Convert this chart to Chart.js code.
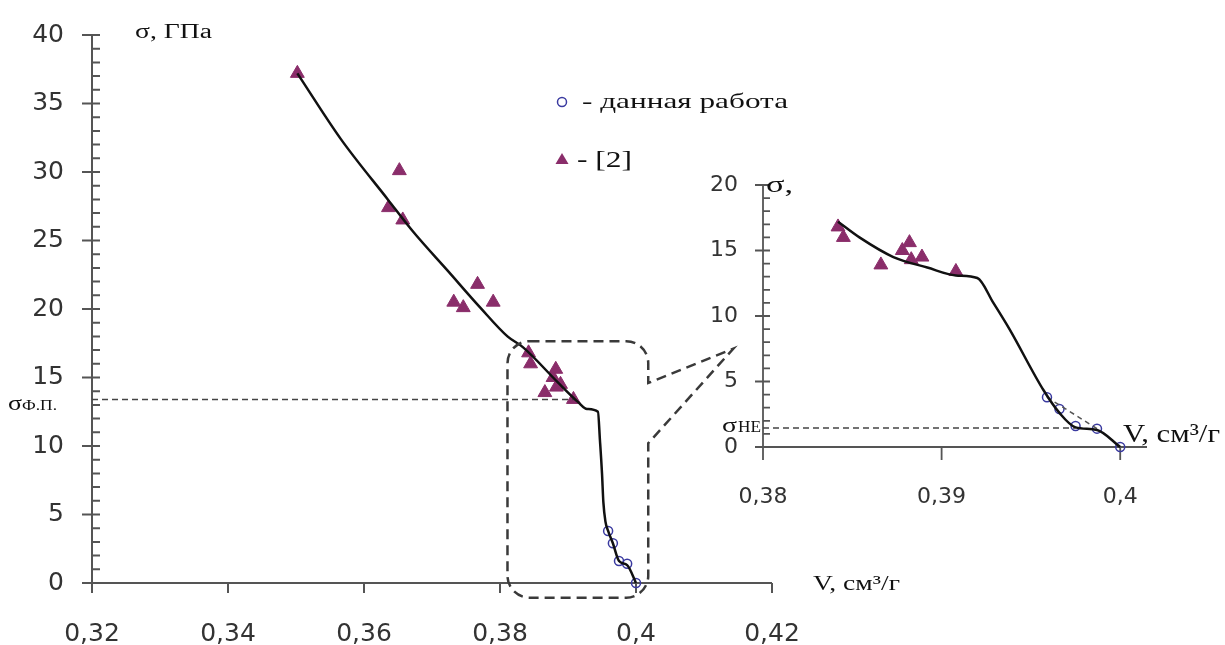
<!DOCTYPE html>
<html>
<head>
<meta charset="utf-8">
<script src="https://cdn.jsdelivr.net/npm/chart.js@4.4.1/dist/chart.umd.min.js"></script>
<style>
  html, body { margin: 0; padding: 0; background: #fff; }
  #wrap { position: relative; width: 1225px; height: 645px; }
  #wrap canvas { position: absolute; left: 0; top: 0; }
</style>
</head>
<body>
<div id="wrap">
  <canvas id="mainChart" width="1225" height="645"></canvas>
  <canvas id="insetChart" width="1225" height="645"></canvas>
</div>
<script>
// --- data: σ (GPa) vs V (cm3/g) ---
// "данная работа" (open circles)
const workV = [0.3959, 0.3966, 0.3975, 0.3987, 0.4000];
const workS = [3.8, 2.9, 1.6, 1.4, 0.0];

// "[2]" (triangles)
const refV = [0.3502, 0.3636, 0.3652, 0.3657, 0.3732, 0.3746, 0.3767, 0.3790,
  0.3842, 0.3845, 0.3866, 0.3878, 0.3882, 0.3883, 0.3889, 0.3908];
const refS = [37.2, 27.4, 30.1, 26.5, 20.5, 20.1, 21.8, 20.5,
  16.8, 16.0, 13.9, 15.0, 15.6, 14.3, 14.5, 13.4];

// solid curve, main chart
const curveV = [0.3502, 0.3566, 0.3635, 0.3673, 0.3723, 0.3771, 0.3811, 0.3834,
  0.3884, 0.3915, 0.3928, 0.3944, 0.3947, 0.3950, 0.3952, 0.3955, 0.3959, 0.3966,
  0.3975, 0.3987, 0.4000];
const curveS = [37.2, 32.4, 28.0, 25.6, 22.8, 20.1, 18.0, 17.2,
  14.7, 13.2, 12.7, 12.5, 10.4, 8.0, 5.9, 4.5, 3.8, 2.9,
  1.6, 1.3, 0.0];

// solid curve, inset
const insetV = [0.3842, 0.3854, 0.3873, 0.3892, 0.3908, 0.3920, 0.3929, 0.3938,
  0.3957, 0.3966, 0.3975, 0.3987, 0.4000];
const insetS = [17.2, 16.0, 14.5, 13.7, 13.1, 12.9, 11.0, 9.0,
  4.35, 2.6, 1.5, 1.3, 0.0];

// levels
const sigmaFP = 13.4;   // σ ф.п.
const sigmaFPend = 0.3908;
const sigmaHE = 1.45;   // σ HE
const sigmaHEend = 0.3975;

// ticks
const mainXTicks = [0.32, 0.34, 0.36, 0.38, 0.40, 0.42];
const mainYTicks = [0, 5, 10, 15, 20, 25, 30, 35, 40];
const insetXTicks = [0.38, 0.39, 0.40];
const insetYTicks = [0, 5, 10, 15, 20];

const triColor = '#8a2d6a';
const circColor = '#3a3aa0';
const axisColor = '#555';
const labelColor = '#333';
const serif = '"Liberation Serif", "DejaVu Serif", serif';

const pts = (xs, ys) => xs.map((v, i) => ({ x: v, y: ys[i] }));
const fmtX = v => String(+v.toFixed(2)).replace('.', ',');

// draw text squeezed/stretched to a given width
function fitText(ctx, text, x, y, font, width) {
  ctx.save();
  ctx.font = font;
  const w = ctx.measureText(text).width;
  ctx.translate(x, y);
  ctx.scale(width / w, 1);
  ctx.fillText(text, 0, 0);
  ctx.restore();
}

// axis lines with major/minor tick marks
const axisMarks = {
  id: 'axisMarks',
  beforeDatasetsDraw(chart, args, o) {
    const { ctx, scales: { x, y } } = chart;
    const x0 = x.getPixelForValue(x.min), x1 = x.getPixelForValue(x.max);
    const y0 = y.getPixelForValue(y.min), yTop = y.getPixelForValue(y.max);
    ctx.save();
    ctx.strokeStyle = axisColor;
    ctx.lineWidth = o.width;
    ctx.beginPath();
    ctx.moveTo(x0, yTop); ctx.lineTo(x0, y0 + o.xTick);
    ctx.moveTo(x0 - o.outer, y0); ctx.lineTo(x1, y0);
    for (let v = y.min; v <= y.max + 1e-9; v += 1) {
      const p = y.getPixelForValue(v);
      const major = v % 5 === 0;
      ctx.moveTo(x0 - (major ? o.outer : 0), p);
      ctx.lineTo(x0 + o.inner, p);
    }
    x.ticks.forEach(t => {
      const p = x.getPixelForValue(t.value);
      ctx.moveTo(p, y0); ctx.lineTo(p, y0 + o.xTick);
    });
    ctx.stroke();
    ctx.restore();
  }
};

// callout box, labels and legend for the main chart
const mainDecor = {
  id: 'mainDecor',
  afterDraw(chart) {
    const { ctx, scales: { x, y } } = chart;
    const px = v => x.getPixelForValue(v), py = v => y.getPixelForValue(v);
    ctx.save();
    const l = px(0.3811), r = px(0.4018), t = py(17.65), b = py(-1.07);
    const tipX = px(0.4143), tipY = py(17.1), n1 = py(14.6), n2 = py(10.2);
    const rad = 22;
    ctx.strokeStyle = '#3a3a3a';
    ctx.lineWidth = 2.5;
    ctx.setLineDash([10, 6]);
    ctx.beginPath();
    ctx.moveTo(l + rad, t);
    ctx.arcTo(r, t, r, n1, rad);
    ctx.lineTo(r, n1);
    ctx.lineTo(tipX, tipY);
    ctx.lineTo(r, n2);
    ctx.arcTo(r, b, l, b, rad);
    ctx.arcTo(l, b, l, t, rad);
    ctx.arcTo(l, t, r, t, rad);
    ctx.closePath();
    ctx.stroke();
    ctx.setLineDash([]);

    ctx.fillStyle = '#111';
    ctx.textBaseline = 'alphabetic';
    fitText(ctx, 'σ, ГПа', 135, 38, '20px ' + serif, 77);
    fitText(ctx, 'V, см³/г', 813, 590, '21px ' + serif, 87);
    fitText(ctx, 'σ', 8, 410, '20px ' + serif, 14);
    fitText(ctx, 'Ф.П.', 22, 410, '15px ' + serif, 35);

    // legend
    ctx.strokeStyle = circColor;
    ctx.lineWidth = 1.5;
    ctx.beginPath(); ctx.arc(562, 102, 4.5, 0, Math.PI * 2); ctx.stroke();
    ctx.fillStyle = triColor;
    ctx.beginPath();
    ctx.moveTo(562, 153); ctx.lineTo(568.5, 164); ctx.lineTo(555.5, 164); ctx.closePath();
    ctx.fill();
    ctx.fillStyle = '#111';
    fitText(ctx, '- данная работа', 582, 108, '22px ' + serif, 206);
    fitText(ctx, '- [2]', 577, 167, '24px ' + serif, 55);
    ctx.restore();
  }
};

const insetDecor = {
  id: 'insetDecor',
  afterDraw(chart) {
    const { ctx } = chart;
    ctx.save();
    ctx.fillStyle = '#111';
    ctx.textBaseline = 'alphabetic';
    fitText(ctx, 'σ,', 766, 192, '24px ' + serif, 27);
    fitText(ctx, 'σ', 722, 432, '22px ' + serif, 15);
    fitText(ctx, 'HE', 738, 432, '17px ' + serif, 23);
    fitText(ctx, 'V, см³/г', 1123, 442, '26px ' + serif, 97);
    ctx.restore();
  }
};

function scales(xr, yr, xTicks, yTicks, box, fontSize, pad) {
  return {
    x: {
      type: 'linear', min: xr[0], max: xr[1],
      afterBuildTicks: s => { s.ticks = xTicks.map(v => ({ value: v })); },
      afterFit: s => { s.height = box.xh; },
      grid: { display: false }, border: { display: false },
      ticks: { padding: pad.x, autoSkip: false, maxRotation: 0, color: labelColor,
        font: { family: 'DejaVu Sans', size: fontSize }, callback: fmtX }
    },
    y: {
      type: 'linear', min: yr[0], max: yr[1],
      afterBuildTicks: s => { s.ticks = yTicks.map(v => ({ value: v })); },
      afterFit: s => { s.width = box.yw; },
      grid: { display: false }, border: { display: false },
      ticks: { padding: pad.y, autoSkip: false, color: labelColor,
        font: { family: 'DejaVu Sans', size: fontSize }, callback: v => String(v) }
    }
  };
}

function datasets(cv, cs, levelPts, extra) {
  return [
    { data: pts(cv, cs), borderColor: '#111', borderWidth: 2.5, pointRadius: 0,
      cubicInterpolationMode: 'monotone', clip: false },
    { data: levelPts, borderColor: '#444', borderWidth: 1.5, borderDash: [6, 4],
      pointRadius: 0, clip: false },
    ...extra,
    { data: pts(refV, refS), showLine: false, pointStyle: 'triangle', pointRadius: 8,
      backgroundColor: triColor, borderColor: triColor, borderWidth: 1,
      clip: { left: 0, top: 10, right: 10, bottom: 10 } },
    { data: pts(workV, workS), showLine: false, pointStyle: 'circle', pointRadius: 4.5,
      backgroundColor: 'rgba(255,255,255,0)', borderColor: circColor, borderWidth: 1.5,
      clip: false }
  ];
}

new Chart(document.getElementById('mainChart'), {
  type: 'line',
  data: {
    datasets: datasets(curveV, curveS,
      [{ x: 0.32, y: sigmaFP }, { x: sigmaFPend, y: sigmaFP }], [])
  },
  options: {
    responsive: false, animation: false,
    layout: { padding: { left: 0, top: 21, right: 453, bottom: 0 } },
    plugins: { legend: { display: false }, tooltip: { enabled: false },
      axisMarks: { width: 2, outer: 10, inner: 8, xTick: 10 } },
    scales: scales([0.32, 0.42], [0, 40], mainXTicks, mainYTicks,
      { xh: 62, yw: 92 }, 25, { x: 28, y: 20 })
  },
  plugins: [axisMarks, mainDecor]
});

new Chart(document.getElementById('insetChart'), {
  type: 'line',
  data: {
    datasets: datasets(insetV, insetS,
      [{ x: 0.38, y: sigmaHE }, { x: sigmaHEend, y: sigmaHE }],
      [{ data: [{ x: workV[0], y: workS[0] }, { x: workV[3], y: workS[3] }],
         borderColor: '#555', borderWidth: 1.5, borderDash: [5, 4], pointRadius: 0 }])
  },
  options: {
    responsive: false, animation: false,
    layout: { padding: { left: 0, top: 185, right: 78, bottom: 0 } },
    plugins: { legend: { display: false }, tooltip: { enabled: false },
      axisMarks: { width: 1.8, outer: 8, inner: 7, xTick: 13 } },
    scales: scales([0.38, 0.4015], [0, 20], insetXTicks, insetYTicks,
      { xh: 198, yw: 763 }, 22, { x: 29, y: 17 })
  },
  plugins: [axisMarks, insetDecor]
});
</script>
</body>
</html>
